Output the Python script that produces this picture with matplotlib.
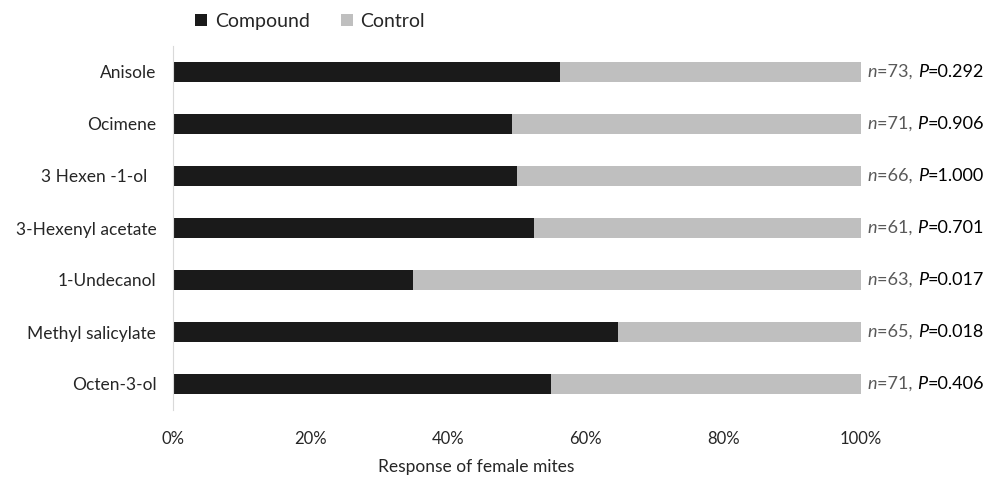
import matplotlib.pyplot as plt
from matplotlib.offsetbox import TextArea, HPacker, AnnotationBbox

plt.rcParams['font.family'] = ['Lato', 'DejaVu Sans']

compounds = ['Anisole', 'Ocimene', '3 Hexen -1-ol  ', '3-Hexenyl acetate',
             '1-Undecanol', 'Methyl salicylate', 'Octen-3-ol']
compound_pct = [56.2, 49.3, 50.0, 52.5, 34.9, 64.7, 54.9]
n_vals = [73, 71, 66, 61, 63, 65, 71]
p_vals = ['0.292', '0.906', '1.000', '0.701', '0.017', '0.018', '0.406']
control_pct = [100 - v for v in compound_pct]

fig = plt.figure(figsize=(10.03, 4.78), dpi=100)
ax = fig.add_axes([173/1003, 1 - 410/478, 688/1003, 364/478])

y = list(range(len(compounds)))[::-1]
ax.barh(y, compound_pct, height=0.4, color='#1a1a1a', label='Compound')
ax.barh(y, control_pct, left=compound_pct, height=0.4, color='#bfbfbf', label='Control')

ax.set_xlim(0, 100)
ax.set_ylim(-0.5, 6.5)
ax.set_yticks(y)
ax.set_yticklabels(compounds, fontsize=12.5, color='#262626')
ax.set_xticks([0, 20, 40, 60, 80, 100])
ax.set_xticklabels(['0%', '20%', '40%', '60%', '80%', '100%'], fontsize=12, color='#262626')
ax.tick_params(axis='both', length=0)
ax.tick_params(axis='y', pad=12)
ax.tick_params(axis='x', pad=15)
for s in ['top', 'right', 'bottom']:
    ax.spines[s].set_visible(False)
ax.spines['left'].set_color('#d9d9d9')
ax.set_xlabel('Response of female mites', fontsize=12.5, color='#262626')
ax.xaxis.set_label_coords(0.44, -0.135)

for yi, n, p in zip(y, n_vals, p_vals):
    parts = [TextArea('n', textprops=dict(style='italic', color='#595959', fontsize=13)),
             TextArea('=%d, ' % n, textprops=dict(color='#595959', fontsize=13)),
             TextArea('P', textprops=dict(style='italic', color='#000000', fontsize=13)),
             TextArea('=' + p, textprops=dict(color='#000000', fontsize=13))]
    box = HPacker(children=parts, pad=0, sep=0, align='baseline')
    ab = AnnotationBbox(box, (100, yi), xybox=(5, 0), xycoords='data',
                        boxcoords='offset points', box_alignment=(0, 0.5),
                        frameon=False, annotation_clip=False)
    ax.add_artist(ab)

fig.legend(loc='upper left', bbox_to_anchor=(178/1003, 1.01), ncol=2, frameon=False,
           fontsize=14, handlelength=0.6, handleheight=0.6, handletextpad=0.4,
           columnspacing=1.6, labelcolor='#262626')

fig.savefig('out.png', dpi=100)
